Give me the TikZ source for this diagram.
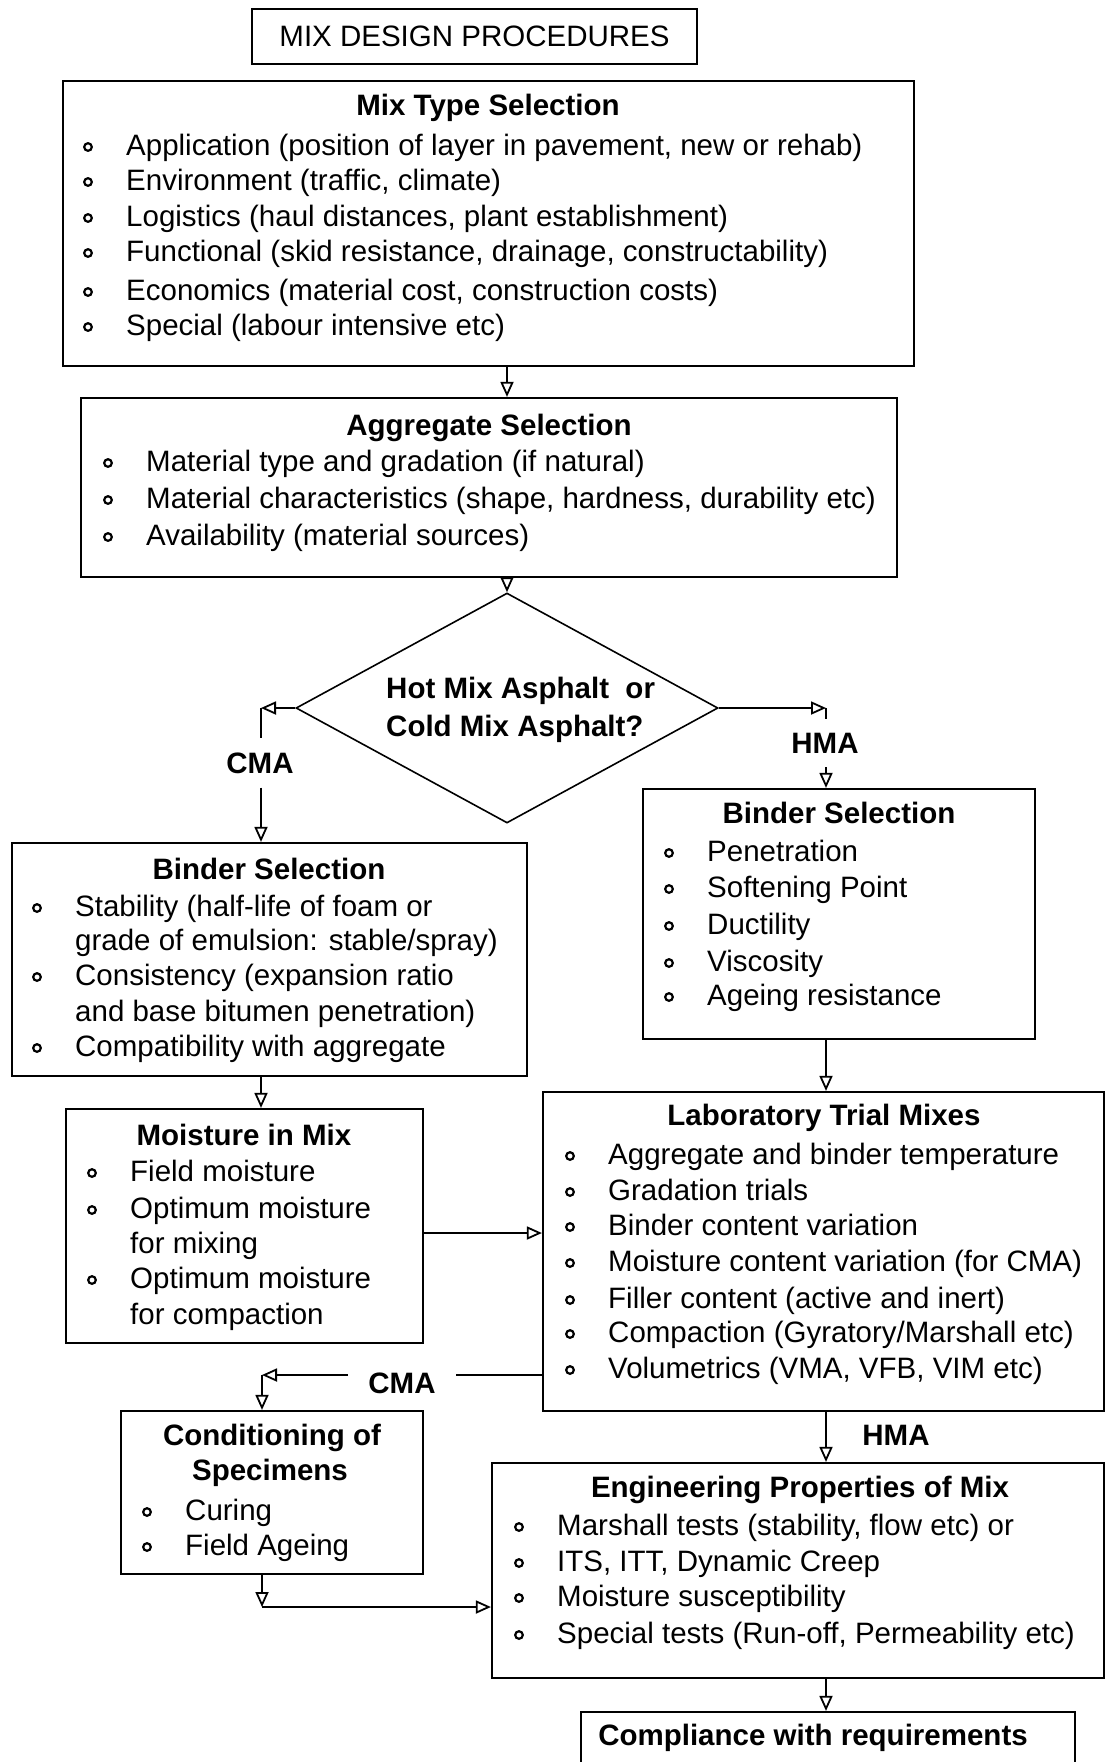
\documentclass[tikz,border=0pt]{standalone}
\usepackage{fontspec}
\setmainfont{Liberation Sans}
\usetikzlibrary{shapes.geometric,arrows.meta}
\newcommand{\fsz}{\fontsize{29.5pt}{35pt}\selectfont}
% bullet line: name, text x, centre y, text
\newcommand{\bitem}[4]{\node[txt] (#1) at (#2,#3+8) {#4};
  \draw[bul] ([xshift=-38pt,yshift=8pt]#1.base west) circle (3.8pt);}
% continuation line without bullet
\newcommand{\pline}[4]{\node[txt] (#1) at (#2,#3+8) {#4};}
\begin{document}
\begin{tikzpicture}[x=1pt,y=-1pt,
  box/.style={draw, line width=2.2pt, rectangle, inner sep=0pt},
  txt/.style={inner sep=0pt, anchor=base west, font=\fsz},
  head/.style={inner sep=0pt, anchor=base, font=\fsz\bfseries},
  brlabel/.style={inner xsep=20pt, inner ysep=14pt, font=\fsz\bfseries},
  conn/.style={line width=1.8pt},
  arr/.style={conn, -{Triangle[open, length=15pt, width=13pt]}},
  bul/.style={line width=2.2pt}]
\useasboundingbox (0,0) rectangle (1106,1762);
\fill[white] (0,0) rectangle (1106,1762);
\clip (0,0) rectangle (1106,1762);

% title
\node[box, minimum width=445pt, minimum height=55pt, font=\fsz] (title) at (474.5,36.5) {MIX DESIGN PROCEDURES};

% mix type selection
\node[box, minimum width=851pt, minimum height=285pt] (mix) at (488.5,223.5) {};
\node[head] (mixh) at (488,115) {Mix Type Selection};
\bitem{mt1}{126}{147}{Application (position of layer in pavement, new or rehab)}
\bitem{mt2}{126}{182}{Environment (traffic, climate)}
\bitem{mt3}{126}{218}{Logistics (haul distances, plant establishment)}
\bitem{mt4}{126}{253}{Functional (skid resistance, drainage, constructability)}
\bitem{mt5}{126}{292}{Economics (material cost, construction costs)}
\bitem{mt6}{126}{327}{Special (labour intensive etc)}

% aggregate selection
\node[box, minimum width=816pt, minimum height=179pt] (agg) at (489,487.5) {};
\node[head] (aggh) at (489,435) {Aggregate Selection};
\bitem{ag1}{146}{463}{Material type and gradation (if natural)}
\bitem{ag2}{146}{500}{Material characteristics (shape, hardness, durability etc)}
\bitem{ag3}{146}{537}{Availability (material sources)}

% decision
\node[diamond, draw, line width=1.6pt, minimum width=422pt, minimum height=230pt, inner sep=0pt] (dia) at (507,708) {};
\node[txt, font=\fsz\bfseries] (d1) at (386,698) {Hot Mix Asphalt\ \ or};
\node[txt, font=\fsz\bfseries] (d2) at (386,736) {Cold Mix Asphalt?};

% binder selection (CMA)
\node[box, minimum width=515pt, minimum height=233pt] (lb) at (269.5,959.5) {};
\node[head] (lbh) at (269,879) {Binder Selection};
\bitem{lb1}{75}{908}{Stability (half-life of foam or}
\pline{lb2}{75}{942}{grade of emulsion: stable/spray)}
\bitem{lb3}{75}{977}{Consistency (expansion ratio}
\pline{lb4}{75}{1013}{and base bitumen penetration)}
\bitem{lb5}{75}{1048}{Compatibility with aggregate}

% binder selection (HMA)
\node[box, minimum width=392pt, minimum height=250pt] (rb) at (839,914) {};
\node[head] (rbh) at (839,823) {Binder Selection};
\bitem{rb1}{707}{853}{Penetration}
\bitem{rb2}{707}{889}{Softening Point}
\bitem{rb3}{707}{926}{Ductility}
\bitem{rb4}{707}{963}{Viscosity}
\bitem{rb5}{707}{997}{Ageing resistance}

% moisture in mix
\node[box, minimum width=357pt, minimum height=234pt] (moist) at (244.5,1226) {};
\node[head] (moh) at (244,1145) {Moisture in Mix};
\bitem{mo1}{130}{1173}{Field moisture}
\bitem{mo2}{130}{1210}{Optimum moisture}
\pline{mo3}{130}{1245}{for mixing}
\bitem{mo4}{130}{1280}{Optimum moisture}
\pline{mo5}{130}{1316}{for compaction}

% laboratory trial mixes
\node[box, minimum width=561pt, minimum height=319pt] (lab) at (823.5,1251.5) {};
\node[head] (labh) at (824,1125) {Laboratory Trial Mixes};
\bitem{la1}{608}{1156}{Aggregate and binder temperature}
\bitem{la2}{608}{1192}{Gradation trials}
\bitem{la3}{608}{1227}{Binder content variation}
\bitem{la4}{608}{1263}{Moisture content variation (for CMA)}
\bitem{la5}{608}{1300}{Filler content (active and inert)}
\bitem{la6}{608}{1334}{Compaction (Gyratory/Marshall etc)}
\bitem{la7}{608}{1370}{Volumetrics (VMA, VFB, VIM etc)}

% conditioning of specimens
\node[box, minimum width=302pt, minimum height=163pt] (cond) at (272,1492.5) {};
\node[head] (coh1) at (272,1445) {Conditioning of};
\node[head] (coh2) at (270,1480) {Specimens};
\bitem{co1}{185}{1512}{Curing}
\bitem{co2}{185}{1547}{Field Ageing}

% engineering properties
\node[box, minimum width=612pt, minimum height=215pt] (eng) at (798,1570.5) {};
\node[head] (engh) at (800,1497) {Engineering Properties of Mix};
\bitem{en1}{557}{1527}{Marshall tests (stability, flow etc) or}
\bitem{en2}{557}{1563}{ITS, ITT, Dynamic Creep}
\bitem{en3}{557}{1598}{Moisture susceptibility}
\bitem{en4}{557}{1635}{Special tests (Run-off, Permeability etc)}

% compliance
\node[box, minimum width=494pt, minimum height=68pt] (comp) at (828,1746) {};
\node[head] (comph) at (813,1745) {Compliance with requirements};

% branch labels
\node[brlabel] (cma1) at (260,763) {CMA};
\node[brlabel] (hma1) at (825,743) {HMA};
\node[brlabel] (cma2) at (402,1383) {CMA};
\node[brlabel] (hma2) at (896,1435) {HMA};

% connector corners
\coordinate (cl) at (261,708);
\coordinate (cr) at (826,708);
\coordinate (c2) at (262,1375);
\coordinate (c3) at (262,1607);

% connectors
\draw[arr] (mix.south -| dia.north) -- (agg.north -| dia.north);
\draw[arr] (agg.south -| dia.north) -- (dia.north);
\draw[arr] (dia.west) -- (cl);
\draw[conn] (cl) -- (cma1.north -| cl);
\draw[arr] (cma1.south -| cl) -- (lb.north -| cl);
\draw[arr] (dia.east) -- (cr);
\draw[conn] (cr) -- (hma1.north -| cr);
\draw[arr] (hma1.south -| cr) -- (rb.north -| cr);
\draw[arr] (lb.south -| cl) -- (moist.north -| cl);
\draw[arr] ([yshift=-7pt]moist.east) -- ([yshift=-7pt]moist.east -| lab.west);
\draw[arr] (rb.south -| cr) -- (lab.north -| cr);
\draw[conn] (lab.west |- c2) -- (cma2.east |- c2);
\draw[arr] (cma2.west |- c2) -- (c2);
\draw[arr] (c2) -- (cond.north -| c2);
\draw[arr] (lab.south -| cr) -- (eng.north -| cr);
\draw[arr] (cond.south -| c3) -- (c3);
\draw[arr] (c3) -- (eng.west |- c3);
\draw[arr] (eng.south -| cr) -- (comp.north -| cr);
\end{tikzpicture}
\end{document}
